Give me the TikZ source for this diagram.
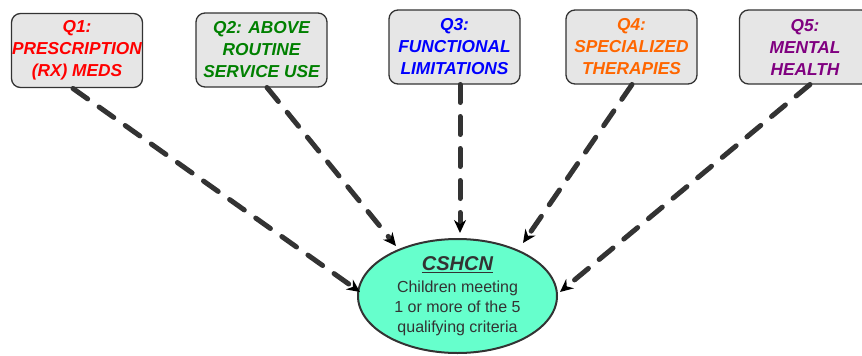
\documentclass[tikz,border=0pt]{standalone}
\usepackage{fontspec}
\setmainfont{Liberation Sans}
\usetikzlibrary{arrows.meta,shapes.geometric}
\definecolor{boxfill}{HTML}{E6E6E6}
\definecolor{linegray}{HTML}{333333}
\definecolor{qred}{HTML}{FF0000}
\definecolor{qgreen}{HTML}{008000}
\definecolor{qblue}{HTML}{0000FF}
\definecolor{qorange}{HTML}{FF6600}
\definecolor{qpurple}{HTML}{800080}
\definecolor{aqua}{HTML}{66FFCC}
\tikzset{
  qbox/.style={draw=linegray, line width=1.3pt, fill=boxfill, rounded corners=9pt,
    minimum width=131pt, minimum height=74pt, inner sep=0pt, align=center,
    font=\fontsize{17.3}{22}\selectfont\bfseries\itshape},
  conn/.style={draw=linegray, line width=5pt, line cap=round, dash pattern=on 18pt off 14pt,
    -{Stealth[length=13pt,width=12pt,fill=black,color=black,line cap=butt]}, shorten >=0pt},
  ellnode/.style={ellipse, draw=linegray, line width=2pt, fill=aqua, minimum width=199pt,
    minimum height=114pt, inner sep=0pt, align=center, text=linegray,
    font=\fontsize{16}{20}\selectfont}
}
\begin{document}
\begin{tikzpicture}[x=1pt,y=-1pt]
\useasboundingbox (0,0) rectangle (862,356);
\clip (0,0) rectangle (862,356);
\node[qbox, text=qred] (q1) at (77,50.5) {Q1:\\PRESCRIPTION\\(RX) MEDS};
\node[qbox, text=qgreen] (q2) at (261.5,50) {Q2: ABOVE\\ROUTINE\\SERVICE USE};
\node[qbox, text=qblue] (q3) at (454.5,47) {Q3:\\FUNCTIONAL\\LIMITATIONS};
\node[qbox, text=qorange] (q4) at (631.5,47) {Q4:\\SPECIALIZED\\THERAPIES};
\node[qbox, text=qpurple] (q5) at (805,47) {Q5:\\MENTAL\\HEALTH};
\node[ellnode] (c) at (457.5,296) {{\fontsize{20}{24}\selectfont\bfseries\itshape\underline{CSHCN}}\\[2pt]Children meeting\\1 or more of the 5\\qualifying criteria};
\coordinate (s1) at (73,88.5);
\coordinate (s2) at (267,87.5);
\coordinate (s3) at (460,84.5);
\coordinate (s4) at (632,84.5);
\coordinate (s5) at (810,84.5);
\coordinate (e1) at (360,292);
\coordinate (e2) at (396,246);
\coordinate (e3) at (460,233);
\coordinate (e4) at (523,243);
\coordinate (e5) at (560,292);
\draw[conn] (s1) -- (e1);
\draw[conn] (s2) -- (e2);
\draw[conn] (s3) -- (e3);
\draw[conn] (s4) -- (e4);
\draw[conn] (s5) -- (e5);
\end{tikzpicture}
\end{document}
